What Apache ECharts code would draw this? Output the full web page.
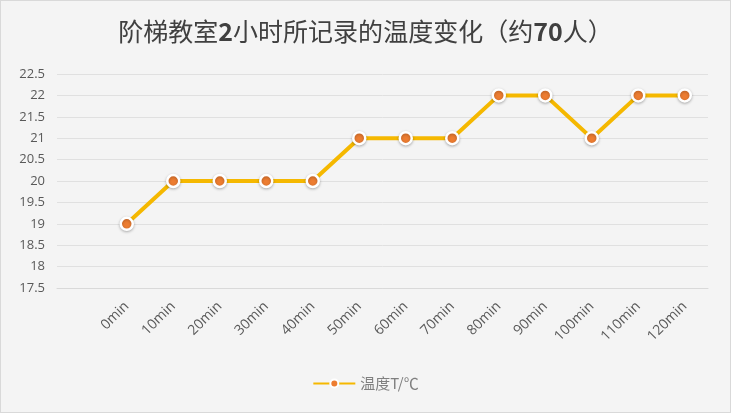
<!DOCTYPE html>
<html><head><meta charset="utf-8">
<script src="https://cdn.jsdelivr.net/npm/echarts@6/dist/echarts.min.js"></script>
<style>
html,body{margin:0;padding:0;background:#fff;}
#c{width:729px;height:411px;border:1px solid #d9d9d9;background:#f4f4f4;}
</style></head>
<body><div id="c"></div>
<script>
const titleParts = [['n','阶梯教室'],['b','2'],['n','小时所记录的温度变化（约'],['b','70'],['n','人）']];
const seriesName = '温度T/℃';
const categories = ['', '0min','10min','20min','30min','40min','50min','60min','70min','80min','90min','100min','110min','120min'];
const temps = [null, 19, 20, 20, 20, 20, 21, 21, 21, 22, 22, 21, 22, 22];
const yMin = 17.5, yMax = 22.5, yStep = 0.5;

const titleText = titleParts.map(p => '{' + p[0] + '|' + p[1] + '}').join('');
const chart = echarts.init(document.getElementById('c'));
chart.setOption({
  backgroundColor: '#f4f4f4',
  animation: false,
  title: {
    text: titleText, left: 'center', top: 13,
    textStyle: {
      rich: {
        n: {fontFamily: '"Noto Sans CJK SC", sans-serif', fontSize: 25, fontWeight: 'normal', color: '#404040'},
        b: {fontFamily: '"Noto Sans CJK SC", sans-serif', fontSize: 25, fontWeight: 'bold', color: '#404040'}
      }
    }
  },
  legend: {
    bottom: 16, left: 'center',
    itemWidth: 42, itemHeight: 10,
    textStyle: {fontFamily: '"Noto Sans CJK SC", sans-serif', fontSize: 15, color: '#7f7f7f'},
    data: [seriesName]
  },
  grid: {left: 56, right: 22, top: 73, bottom: 124},
  xAxis: {
    type: 'category', data: categories, boundaryGap: true,
    axisLine: {lineStyle: {color: '#d9d9d9', width: 1}},
    axisTick: {show: false},
    axisLabel: {rotate: 45, interval: 0, fontFamily: '"Open Sans", sans-serif', fontSize: 14, color: '#595959', margin: 16}
  },
  yAxis: {
    type: 'value', min: yMin, max: yMax, interval: yStep,
    axisLine: {show: false}, axisTick: {show: false},
    splitLine: {lineStyle: {color: '#e0e0e0', width: 1}},
    axisLabel: {fontFamily: '"Open Sans", sans-serif', fontSize: 13, color: '#595959', margin: 12}
  },
  series: [{
    name: seriesName, type: 'line', data: temps,
    connectNulls: false,
    symbol: 'circle', symbolSize: 12,
    lineStyle: {color: '#f5b800', width: 4},
    itemStyle: {color: '#ed7d31', borderColor: '#ffffff', borderWidth: 2.5,
      shadowColor: 'rgba(0,0,0,0.25)', shadowBlur: 3, shadowOffsetY: 1},
    color: '#f5b800'
  }]
});
</script></body></html>
